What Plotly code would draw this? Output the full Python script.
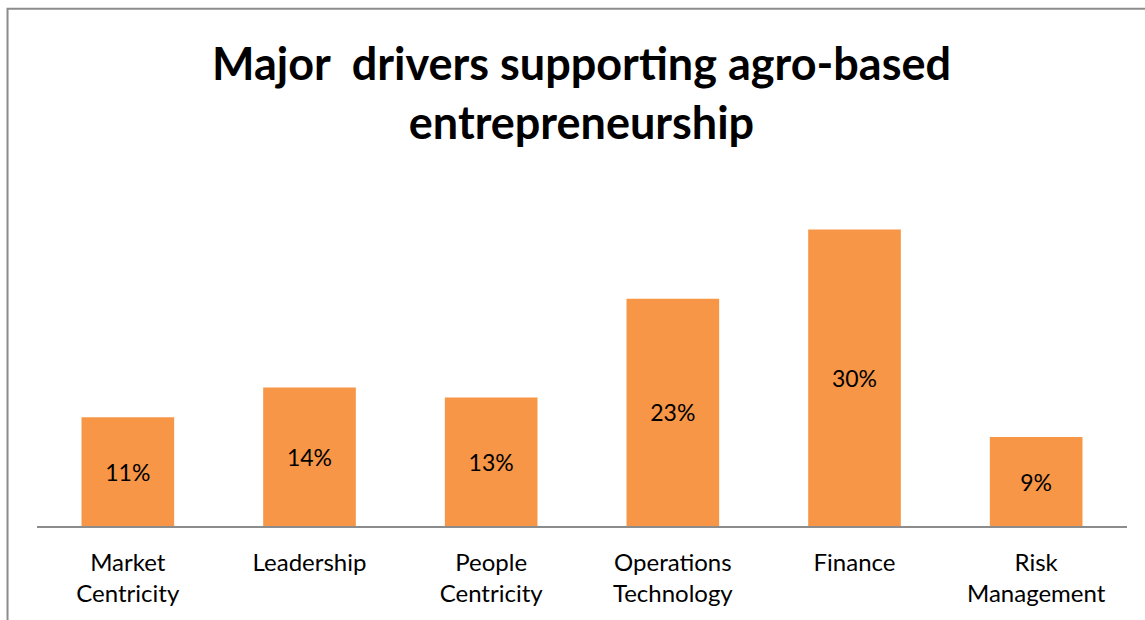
import plotly.graph_objects as go

categories = ["Market<br>Centricity", "Leadership", "People<br>Centricity",
              "Operations<br>Technology", "Finance", "Risk<br>Management"]
shares = [0.11, 0.14, 0.13, 0.23, 0.30, 0.09]

W, H = 1145, 620
L, R, T, B = 36.5, 17.5, 179.5, 94
plot_h = H - T - B
plot_w = W - L - R

fig = go.Figure(go.Bar(
    x=categories,
    y=shares,
    marker=dict(color="#F79646", line=dict(width=0)),
    width=0.51,
    texttemplate="%{y:.0%}",
    textposition="inside",
    insidetextanchor="middle",
    textangle=0,
    textfont=dict(family="Lato", size=23, color="#000000"),
    hoverinfo="skip",
))

# outer frame of the chart area (runs off the right and bottom edges)
fig.add_shape(
    type="rect", xref="paper", yref="paper",
    x0=(7 - L) / plot_w, x1=(W + 20 - L) / plot_w,
    y0=(H - B - (H + 20)) / plot_h, y1=(H - B - 8) / plot_h,
    line=dict(color="#8C8C8C", width=2), fillcolor="rgba(0,0,0,0)", layer="below",
)

fig.update_layout(
    width=W, height=H,
    margin=dict(l=L, r=R, t=T, b=B, pad=0),
    paper_bgcolor="white", plot_bgcolor="white",
    showlegend=False,
    title=dict(
        text="Major&nbsp; drivers supporting agro-based<br>entrepreneurship",
        x=581.5 / W, xanchor="center", xref="container",
        y=1 - 80 / H, yanchor="top", yref="container",
        font=dict(family="Lato", size=45, color="#000000", weight="bold"),
    ),
    xaxis=dict(
        showline=True, linecolor="#8C8C8C", linewidth=2,
        showgrid=False, zeroline=False,
        ticks="outside", ticklen=14, tickcolor="rgba(0,0,0,0)",
        tickfont=dict(family="Lato", size=24, color="#000000"),
    ),
    yaxis=dict(
        range=[0, 0.35], visible=False, showgrid=False, zeroline=False,
    ),
)

fig.write_html("out.html")
